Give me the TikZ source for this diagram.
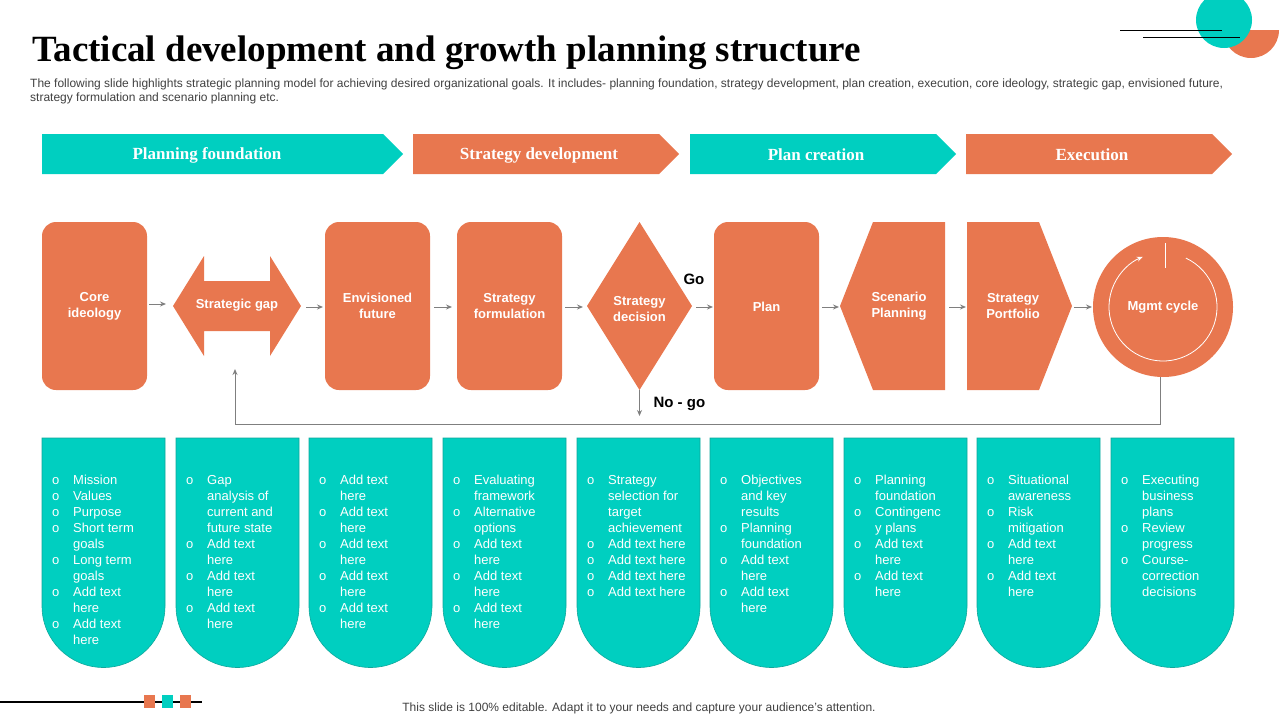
\documentclass[tikz,border=0pt]{standalone}
\usepackage{fontspec}
\setmainfont{Liberation Sans}
\newfontfamily\titlefont{Liberation Serif}
\usetikzlibrary{arrows.meta}
\definecolor{org}{HTML}{E8774F}
\definecolor{tea}{HTML}{00CFC0}
\definecolor{teadk}{HTML}{0FA79B}
\definecolor{arr}{HTML}{7F7F7F}
\tikzset{
 shp/.style={fill=org,draw=none},
 lab/.style={text=white,font=\fontsize{13}{16}\selectfont\bfseries,align=center},
 ban/.style={text=white,font=\titlefont\fontsize{17}{20}\selectfont\bfseries},
 flow/.style={draw=arr,line width=1pt,-{Stealth[length=6pt,width=5pt]}},
 card/.style={fill=tea,draw=teadk,line width=0.6pt},
 ctext/.style={text=white,font=\fontsize{13}{16}\selectfont,anchor=north west,inner sep=0pt}
}
\newcommand{\cardshape}[1]{\path[card] (#1,438) -- (#1+123,438) -- (#1+123,606) arc[start angle=0,end angle=180,radius=61.5] -- cycle;}
\begin{document}
\begin{tikzpicture}[x=1pt,y=-1pt]
\useasboundingbox (0,0) rectangle (1280,720);
% top right decoration
\begin{scope}
\clip (0,0) rectangle (1280,720);
\fill[org] (1223,30) arc[start angle=180,end angle=0,radius=28] -- cycle;
\fill[tea] (1224,20) circle[radius=28];
\end{scope}
\draw[line width=1pt] (1120,30) -- (1222,30);
\draw[line width=1pt] (1143,37) -- (1240,37);
% title
\node[anchor=base west,inner sep=0pt,font=\titlefont\fontsize{37}{40}\selectfont\bfseries] (title) at (32,61) {Tactical development and growth planning structure};
\node[anchor=north west,inner sep=0pt,text=black!75,align=left,font=\fontsize{12}{14}\selectfont] (sub) at (30,79) {The following slide highlights strategic planning model for achieving desired organizational goals. It includes- planning foundation, strategy development, plan creation, execution, core ideology, strategic gap, envisioned future,\\strategy formulation and scenario planning etc.};
% banners
\fill[tea] (42,134) -- (383,134) -- (403,154) -- (383,174) -- (42,174) -- cycle;
\node[ban] (b1) at (207,155) {Planning foundation};
\fill[org] (413,134) -- (659,134) -- (679,154) -- (659,174) -- (413,174) -- cycle;
\node[ban] (b2) at (539,155) {Strategy development};
\fill[tea] (690,134) -- (936,134) -- (956,154) -- (936,174) -- (690,174) -- cycle;
\node[ban] (b3) at (816,155) {Plan creation};
\fill[org] (966,134) -- (1212,134) -- (1232,154) -- (1212,174) -- (966,174) -- cycle;
\node[ban] (b4) at (1092,155) {Execution};
% flow shapes
\fill[shp,rounded corners=14pt] (42,222) rectangle (147,390);
\node[lab] (n1) at (94.5,306) {Core\\ideology};
\fill[shp] (173,306) -- (204,256) -- (204,281) -- (270,281) -- (270,256) -- (301,306) -- (270,356) -- (270,331) -- (204,331) -- (204,356) -- cycle;
\node[lab] (n2) at (237,305) {Strategic gap};
\fill[shp,rounded corners=14pt] (325,222) rectangle (430,390);
\node[lab] (n3) at (377.5,306) {Envisioned\\future};
\fill[shp,rounded corners=14pt] (457,222) rectangle (562,390);
\node[lab] (n4) at (509.5,306) {Strategy\\formulation};
\fill[shp] (639.5,222) -- (692,306) -- (639.5,390) -- (587,306) -- cycle;
\node[lab] (n5) at (639.5,309) {Strategy\\decision};
\fill[shp,rounded corners=14pt] (714,222) rectangle (819,390);
\node[lab] (n6) at (766.5,307) {Plan};
\fill[shp] (873,222) -- (945,222) -- (945,390) -- (873,390) -- (840,306) -- cycle;
\node[lab] (n7) at (899,306) {Scenario\\Planning};
\fill[shp] (967,222) -- (1039,222) -- (1072,306) -- (1039,390) -- (967,390) -- cycle;
\node[lab] (n8) at (1013,306) {Strategy\\Portfolio};
\fill[shp] (1163,307) circle[radius=70];
\draw[white,line width=0.8pt,-{Stealth[length=6pt,width=5pt]}] (1163,307) ++(-65:54) arc[start angle=-65,end angle=248,radius=54];
\draw[white,line width=0.8pt] (1165,243) -- (1165,268);
\node[lab] (n9) at (1163,307) {Mgmt cycle};
% arrows
\coordinate (a1s) at (149,304); \coordinate (a1e) at (166,304);
\draw[flow] (a1s) -- (a1e);
\coordinate (a2s) at (306,307); \coordinate (a2e) at (323,307);
\draw[flow] (a2s) -- (a2e);
\coordinate (a3s) at (434,307); \coordinate (a3e) at (452,307);
\draw[flow] (a3s) -- (a3e);
\coordinate (a4s) at (565,307); \coordinate (a4e) at (583,307);
\draw[flow] (a4s) -- (a4e);
\coordinate (a5s) at (696,307); \coordinate (a5e) at (713,307);
\draw[flow] (a5s) -- (a5e);
\coordinate (a6s) at (822,307); \coordinate (a6e) at (839,307);
\draw[flow] (a6s) -- (a6e);
\coordinate (a7s) at (949,307); \coordinate (a7e) at (966,307);
\draw[flow] (a7s) -- (a7e);
\coordinate (a8s) at (1074,307); \coordinate (a8e) at (1092,307);
\draw[flow] (a8s) -- (a8e);
\coordinate (ngs) at (639.5,390); \coordinate (nge) at (639.5,416);
\draw[flow] (ngs) -- (nge);
\coordinate (fb1) at (1160,377); \coordinate (fb2) at (235,369);
\draw[flow] (fb1) -- (1160,424) -- (235,424) -- (fb2);
\node[font=\fontsize{15}{18}\selectfont\bfseries,anchor=west] (go) at (680,279) {Go};
\node[font=\fontsize{15}{18}\selectfont\bfseries,anchor=west] (nogo) at (650,404) {No - go};
% cards
\foreach \x in {42,176,309,443,577,710,844,977,1111} {\cardshape{\x}}
\newcommand{\cardtxt}[2]{\node[ctext] at (#1+10,473) {\begin{tabular}{@{}p{15pt}@{\hspace{6pt}}p{88pt}@{}}#2\end{tabular}};}
\cardtxt{42}{o & Mission\\o & Values\\o & Purpose\\o & Short term\\ & goals\\o & Long term\\ & goals\\o & Add text\\ & here\\o & Add text\\ & here}
\cardtxt{176}{o & Gap\\ & analysis of\\ & current and\\ & future state\\o & Add text\\ & here\\o & Add text\\ & here\\o & Add text\\ & here}
\cardtxt{309}{o & Add text\\ & here\\o & Add text\\ & here\\o & Add text\\ & here\\o & Add text\\ & here\\o & Add text\\ & here}
\cardtxt{443}{o & Evaluating\\ & framework\\o & Alternative\\ & options\\o & Add text\\ & here\\o & Add text\\ & here\\o & Add text\\ & here}
\cardtxt{577}{o & Strategy\\ & selection for\\ & target\\ & achievement\\o & Add text here\\o & Add text here\\o & Add text here\\o & Add text here}
\cardtxt{710}{o & Objectives\\ & and key\\ & results\\o & Planning\\ & foundation\\o & Add text\\ & here\\o & Add text\\ & here}
\cardtxt{844}{o & Planning\\ & foundation\\o & Contingenc\\ & y plans\\o & Add text\\ & here\\o & Add text\\ & here}
\cardtxt{977}{o & Situational\\ & awareness\\o & Risk\\ & mitigation\\o & Add text\\ & here\\o & Add text\\ & here}
\cardtxt{1111}{o & Executing\\ & business\\ & plans\\o & Review\\ & progress\\o & Course-\\ & correction\\ & decisions}
% footer
\draw[line width=1.5pt] (0,702) -- (202,702);
\fill[org] (144,695) rectangle (155,708);
\fill[tea] (162,695) rectangle (173,708);
\fill[org] (180,695) rectangle (191,708);
\node[text=black!75,font=\fontsize{12}{14}\selectfont] (foot) at (639,708) {This slide is 100\% editable. Adapt it to your needs and capture your audience's attention.};
\end{tikzpicture}
\end{document}
